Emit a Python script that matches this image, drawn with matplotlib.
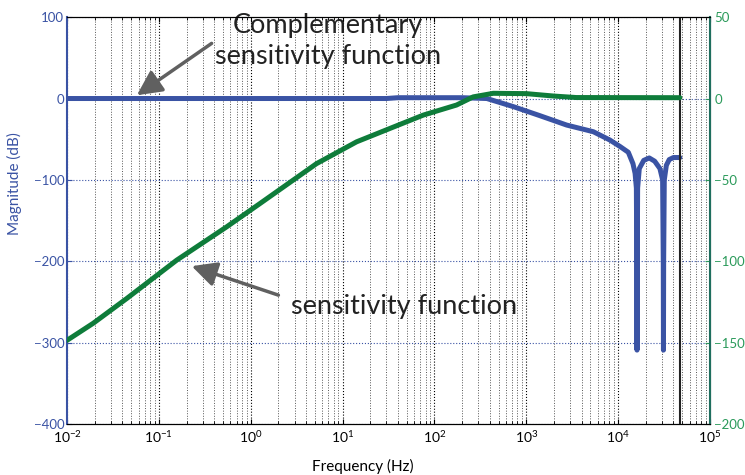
import matplotlib
matplotlib.use('Agg')
import matplotlib.pyplot as plt
import numpy as np

plt.rcParams['font.family'] = ['Lato', 'DejaVu Sans']

# complementary sensitivity function (left axis, dB)
freq_t = [1e-2, 30, 40, 200, 372, 724, 1400, 2750, 5370, 8130, 10500, 12900, 14500,
          15300, 15800, 15950, 16050, 16150, 16300, 17000, 19000, 21800, 25000,
          28500, 30500, 31000, 31150, 31300, 31800, 33500, 36000, 40000, 47000]
mag_t = [0, 0, 1, 1, 0, -10, -21, -32.6, -40.8, -51, -59, -66, -80,
         -92, -110, -200, -309, -200, -110, -86, -76, -73, -77,
         -86, -100, -200, -309, -200, -100, -82, -75, -72.5, -72.5]

# sensitivity function (right axis, dB)
freq_s = [1e-2, 0.0193, 0.0447, 0.156, 0.547, 1.26, 5.2, 14.2, 32.7, 75.5,
          174, 264, 437, 1000, 2000, 3500, 47000]
mag_s = [-148.5, -138, -122.8, -99.3, -78.8, -64.5, -40, -26.6, -18.4, -10.2,
         -4, 1, 3.2, 3, 1.5, 0.6, 0.5]

blue = '#3a53a4'
green = '#0e7c3a'

def main():
    fig = plt.figure(figsize=(7.45, 4.75), dpi=100)
    ax = fig.add_axes([0.09, 0.107, 0.863, 0.857])
    ax2 = ax.twinx()

    ax.set_xscale('log')
    ax.set_xlim(1e-2, 1e5)
    ax.set_ylim(-400, 100)
    ax2.set_ylim(-200, 50)
    ax.set_yticks(np.arange(-400, 101, 100))
    ax2.set_yticks(np.arange(-200, 51, 50))

    ax.grid(True, which='major', axis='x', linestyle=':', color='black', linewidth=0.8)
    ax.grid(True, which='minor', axis='x', linestyle=':', color='#555555', linewidth=0.7)
    ax.grid(True, which='major', axis='y', linestyle=':', color=blue, linewidth=0.8)

    ax.plot(freq_t, mag_t, color=blue, linewidth=3.6, solid_capstyle='round',
            solid_joinstyle='round', zorder=3)
    ax2.plot(freq_s, mag_s, color=green, linewidth=3.6, solid_capstyle='round',
             solid_joinstyle='round', zorder=3)
    ax.axvline(4.7e4, color='#222222', linewidth=1.5, zorder=4)

    ax.tick_params(which='both', direction='in', top=True)
    ax.tick_params(axis='y', colors=blue, labelsize=9.5, pad=2)
    ax.tick_params(axis='x', labelsize=10)
    ax2.tick_params(direction='in', colors='#2a9a5a', labelsize=9.5, pad=3)
    ax.spines['left'].set_color(blue)
    ax.spines['left'].set_linewidth(1.5)
    ax2.spines['left'].set_visible(False)
    ax2.spines['right'].set_color('#1e6e5e')
    ax2.spines['right'].set_linewidth(1.5)

    ax.set_xlabel('Frequency (Hz)', fontsize=11)
    ax.xaxis.set_label_coords(0.46, -0.085)
    ax.set_ylabel('Magnitude (dB)', fontsize=11, color=blue)
    ax.yaxis.set_label_coords(-0.07, 0.59)

    arrow = dict(arrowstyle='-|>,head_length=1.5,head_width=0.75', color='#606060',
                 linewidth=2.5, shrinkA=0, shrinkB=0)
    ax.annotate('', xy=(0.0575, 4), xytext=(0.375, 67.7), arrowprops=arrow, zorder=5)
    ax.text(6.9, 71, 'Complementary\nsensitivity function', fontsize=19.5,
            ha='center', va='center', color='#222222', linespacing=1.3)
    ax.annotate('', xy=(0.2275, -205.9), xytext=(2.0, -241.5), arrowprops=arrow, zorder=5)
    ax.text(2.73, -256, 'sensitivity function', fontsize=19.5,
            ha='left', va='center', color='#222222')

    fig.savefig('out.png', dpi=100)

if __name__ == '__main__':
    main()
